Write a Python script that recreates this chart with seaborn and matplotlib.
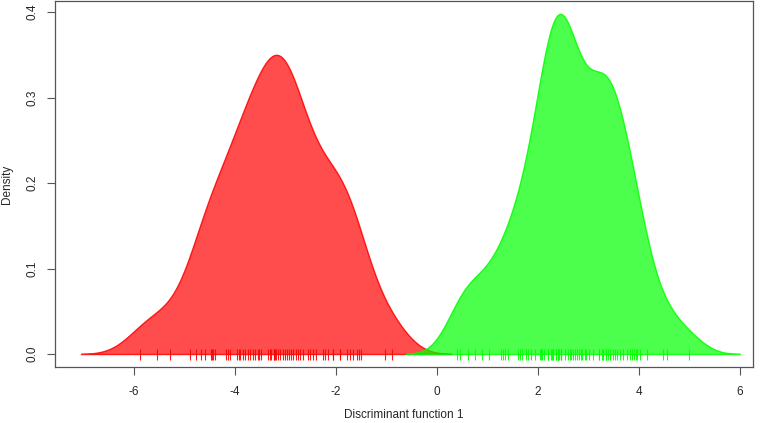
import numpy as np
import pandas as pd
import matplotlib
matplotlib.use("Agg")
import matplotlib.pyplot as plt
import seaborn as sns

group1 = [-5.88, -5.54, -5.28, -4.90, -4.77, -4.67, -4.59, -4.48, -4.46, -4.43, -4.40,
          -4.18, -4.13, -4.09, -3.97, -3.93, -3.90, -3.85, -3.80, -3.75, -3.70, -3.65,
          -3.60, -3.55, -3.52, -3.49, -3.34, -3.31, -3.28, -3.22, -3.22, -3.20, -3.19,
          -3.15, -3.10, -3.04, -3.01,
          -2.97, -2.93, -2.90, -2.85, -2.80, -2.76, -2.71, -2.66, -2.56, -2.51, -2.46,
          -2.40, -2.26, -2.22, -2.16, -2.05, -2.05, -1.92, -1.92, -1.79, -1.72, -1.66,
          -1.59, -1.54, -1.50, -1.02, -0.89]
group2 = [0.39, 0.46, 0.62, 0.76, 0.90, 1.03, 1.27, 1.30, 1.35, 1.41, 1.61,
          1.65, 1.69, 1.76, 1.81, 1.86, 1.94, 2.03, 2.06, 2.08, 2.12, 2.19, 2.20, 2.25,
          2.27, 2.30, 2.30, 2.35, 2.35, 2.40, 2.40, 2.40, 2.42, 2.46, 2.46, 2.46, 2.53,
          2.60, 2.63, 2.66, 2.69, 2.73, 2.77, 2.82, 2.85, 2.87,
          2.93, 2.96, 3.00, 3.08, 3.21, 3.21, 3.26, 3.29, 3.29, 3.35, 3.35, 3.35, 3.38,
          3.43, 3.43, 3.48, 3.52, 3.56,
          3.62, 3.69, 3.76, 3.82, 3.86, 3.90, 3.94, 3.97, 4.01, 4.16, 4.48, 4.56, 4.99]
bandwidths = [0.39, 0.335]
x_ticks = [-6, -4, -2, 0, 2, 4, 6]
y_ticks = [0.0, 0.1, 0.2, 0.3, 0.4]
x_label = "Discriminant function 1"
y_label = "Density"

sns.set_style("white")
plt.rcParams['font.family'] = ['Liberation Sans', 'DejaVu Sans']

fig = plt.figure(figsize=(7.67, 4.23), dpi=100)
ax = fig.add_axes([55 / 767, 1 - 367 / 423, 698 / 767, 366 / 423])

for vals, bw, col in [(group1, bandwidths[0], "#FF0000"),
                      (group2, bandwidths[1], "#00FF00")]:
    sd = np.std(vals, ddof=1)
    sns.kdeplot(x=vals, ax=ax, fill=True, bw_method=bw / sd, cut=3,
                gridsize=512, color=col, alpha=1.0, linewidth=1.0)
    coll = ax.collections[-1]
    coll.set_alpha(None)
    coll.set_facecolor((*matplotlib.colors.to_rgb(col), 0.7))
    coll.set_edgecolor((*matplotlib.colors.to_rgb(col), 0.85))

ax.vlines(group1, -0.0065, 0.006, color="#FF0000", linewidth=0.8, alpha=0.9)
ax.vlines(group2, -0.0065, 0.006, color="#00FF00", linewidth=0.8, alpha=0.9)

ax.set_xlim(-7.564, 6.257)
ax.set_ylim(-0.0152, 0.4129)
ax.set_xticks(x_ticks)
ax.set_xticklabels([str(t) for t in x_ticks])
ax.set_yticks(y_ticks)
ax.set_yticklabels([f"{t:.1f}" for t in y_ticks], rotation=90, va="center")
ax.tick_params(axis="both", direction="out", length=6, width=0.8, color="#555555",
               labelsize=8.5, pad=8, bottom=True, left=True)
ax.tick_params(axis="y", pad=6)
for s in ax.spines.values():
    s.set_color("#555555")
    s.set_linewidth(0.9)
ax.set_xlabel("")
ax.set_ylabel("")
fig.text(404 / 767, 1 - 415 / 423, x_label, fontsize=8.5, ha="center", va="center")
fig.text(7 / 767, 1 - 184 / 423, y_label, fontsize=8.5, ha="center", va="center",
         rotation=90)
fig.savefig("out.png", dpi=100)
